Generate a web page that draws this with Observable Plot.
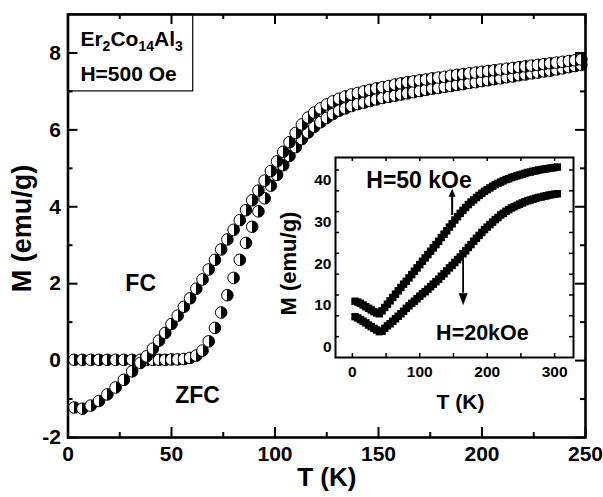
<!DOCTYPE html>
<html><head><meta charset="utf-8">
<script src="https://cdn.jsdelivr.net/npm/d3@7"></script>
<script src="https://cdn.jsdelivr.net/npm/@observablehq/plot@0.6"></script>
<style>
body{margin:0;background:#fff;}
#wrap{position:relative;width:603px;height:497px;overflow:hidden;background:#fff;}
#inset{position:absolute;left:270px;top:150px;}
</style></head><body><div id="wrap"><div id="main"></div><div id="inset"></div></div>
<script>
// ---------- main plot data ----------
const T_main = [3,7,11,15,19,23,27,31,35,
  38,41,44,47,50,53,56,59,62,65,68,71,74,77,80,83,86,89,92,95,98,101,104,107,110,113,116,119,122,125,
  128,131,134,137,140,143,146,149,152,155,158,161,164,167,170,173,176,179,182,185,188,191,194,197,200,
  203,206,209,212,215,218,221,224,227,230,233,236,239,242,245,248];
const M_FC = [-1.22,-1.25,-1.17,-1.05,-0.88,-0.70,-0.50,-0.28,-0.06,
  0.11,0.31,0.52,0.72,0.95,1.17,1.40,1.62,1.87,2.11,2.37,2.62,2.89,3.15,3.40,3.65,3.91,4.17,4.42,4.68,4.93,5.18,5.43,5.68,5.92,6.14,6.32,6.45,6.56,6.66,
  6.74,6.81,6.87,6.92,6.96,7.00,7.04,7.08,7.11,7.14,7.18,7.21,7.24,7.26,7.29,7.31,7.34,7.36,7.38,7.41,7.43,7.45,7.47,7.49,7.51,
  7.53,7.55,7.57,7.59,7.61,7.63,7.65,7.67,7.69,7.71,7.73,7.75,7.77,7.79,7.81,7.83];
const M_ZFC = [0.02,0.02,0.02,0.02,0.02,0.02,0.02,0.02,0.02,
  0.02,0.02,0.02,0.02,0.03,0.03,0.04,0.07,0.13,0.26,0.50,0.85,1.25,1.70,2.15,2.62,3.06,3.48,3.88,4.22,4.55,4.83,5.08,5.32,5.55,5.76,5.93,6.08,6.20,6.31,
  6.41,6.50,6.56,6.62,6.67,6.71,6.75,6.79,6.83,6.86,6.89,6.92,6.95,6.98,7.01,7.04,7.07,7.09,7.12,7.14,7.17,7.19,7.22,7.24,7.27,
  7.29,7.32,7.34,7.37,7.39,7.42,7.44,7.47,7.49,7.52,7.54,7.57,7.60,7.63,7.66,7.69];
const xMajor = [0,50,100,150,200,250];
const xMinor = [25,75,125,175,225];
const yMajor = [-2,0,2,4,6,8];
const yMinor = [-1,1,3,5,7];

// ---------- inset data ----------
const T_in = [4,8,12,16,20,24,28,32,36,40,44,48,52,56,60,64,68,72,76,80,84,88,92,96,100,104,108,112,116,120,124,128,132,136,140,144,148,152,156,160,164,168,172,176,180,184,188,192,196,200,204,208,212,216,220,224,228,232,236,240,244,248,252,256,260,264,268,272,276,280,284,288,292,296,300,304];
const M_50k = [11.0,10.8,10.5,10.1,9.7,9.3,8.9,8.5,8.2,8.0,8.7,9.5,10.3,11.1,11.9,12.7,13.5,14.3,15.1,15.8,16.6,17.4,18.2,19.0,19.8,20.6,21.4,22.2,23.0,23.8,24.6,25.4,26.3,27.1,27.9,28.8,29.6,30.5,31.3,32.1,32.8,33.5,34.2,34.8,35.3,35.9,36.4,36.9,37.4,37.8,38.2,38.6,39.0,39.3,39.6,39.9,40.2,40.4,40.7,40.9,41.1,41.3,41.5,41.7,41.9,42.0,42.2,42.3,42.5,42.6,42.7,42.8,42.9,43.0,43.1,43.2];
const M_20k = [7.3,7.0,6.6,6.2,5.8,5.3,4.9,4.5,4.1,3.7,3.8,4.5,5.1,5.6,6.2,6.8,7.4,8.0,8.6,9.3,9.9,10.5,11.0,11.6,12.2,12.8,13.3,13.9,14.5,15.1,15.7,16.3,17.0,17.6,18.3,19.0,19.6,20.3,21.0,21.6,22.4,23.1,23.9,24.6,25.4,26.1,26.8,27.5,28.2,28.8,29.4,30.0,30.6,31.1,31.7,32.1,32.6,33.0,33.4,33.7,34.0,34.3,34.6,34.9,35.1,35.3,35.5,35.7,35.9,36.0,36.2,36.3,36.5,36.6,36.7,36.8];
const xInMajor = [0,100,200,300];
const xInMinor = [50,150,250];
const yInLabels = [0,10,20,30,40];
const yInTicks = [2.5,7.5,12.5,17.5,22.5,27.5,32.5,37.5,42.5];

const FONT = 'Arial, "Liberation Sans", Helvetica, sans-serif';
const fc = T_main.map((t,i)=>({T:t, M:M_FC[i]}));
const zfc = T_main.map((t,i)=>({T:t, M:M_ZFC[i]}));
const h50 = T_in.map((t,i)=>({T:t, M:M_50k[i]}));
const h20 = T_in.map((t,i)=>({T:t, M:M_20k[i]}));

// ---------- main ----------
const W=603, H=497, mL=67.5, mR=18, mT=14, mB=60;
const iW = W-mL-mR, iH = H-mT-mB;
const bold = {fontWeight:"bold", fontFamily:FONT, fill:"black"};

const main = Plot.plot({
  width:W, height:H, marginLeft:mL, marginRight:mR, marginTop:mT, marginBottom:mB,
  style:{fontFamily:FONT, background:"white", color:"black"},
  x:{domain:[0,250]},
  y:{domain:[-2,9]},
  marks:[
    Plot.rect([{}], {x1:()=>0, x2:()=>60.5, y1:()=>7.0, y2:()=>9, fill:"white", stroke:"black", strokeWidth:1.2}),
    Plot.tickX(xMajor, {x:d=>d, insetTop:iH-10, strokeWidth:2}),
    Plot.tickX(xMinor, {x:d=>d, insetTop:iH-5, strokeWidth:2}),
    Plot.tickX(xMajor, {x:d=>d, insetBottom:iH-10, strokeWidth:2}),
    Plot.tickX(xMinor, {x:d=>d, insetBottom:iH-5, strokeWidth:2}),
    Plot.tickY(yMajor, {y:d=>d, insetRight:iW-10, strokeWidth:2}),
    Plot.tickY(yMinor, {y:d=>d, insetRight:iW-5, strokeWidth:2}),
    Plot.tickY(yMajor, {y:d=>d, insetLeft:iW-10, strokeWidth:2}),
    Plot.tickY(yMinor, {y:d=>d, insetLeft:iW-5, strokeWidth:2}),
    Plot.axisX({ticks:xMajor, tickSize:0, tickPadding:9, tickFormat:d=>String(d), fontSize:21, fontWeight:"bold", label:null}),
    Plot.axisY({ticks:yMajor, tickSize:0, tickPadding:7, tickFormat:d=>String(d), fontSize:21, fontWeight:"bold", label:null}),
    Plot.dot(zfc, {x:"T", y:"M", r:5.8, fill:"url(#halfFill)", stroke:"black", strokeWidth:1}),
    Plot.dot(fc, {x:"T", y:"M", r:5.8, fill:"url(#halfFill)", stroke:"black", strokeWidth:1}),
    Plot.frame({stroke:"black", strokeWidth:2.6}),
    Plot.text([{s:"FC", x:35.1, y:2.0}], {x:"x", y:"y", text:"s", fontSize:23, ...bold}),
    Plot.text([{s:"ZFC", x:62.6, y:-0.91}], {x:"x", y:"y", text:"s", fontSize:23, ...bold}),
    Plot.text([{s:"Er2Co14Al3", x:6.0, y:8.36}], {x:"x", y:"y", text:"s", textAnchor:"start", fontSize:21, ...bold}),
    Plot.text([{s:"H=500 Oe", x:6.0, y:7.45}], {x:"x", y:"y", text:"s", textAnchor:"start", fontSize:21, ...bold}),
    Plot.text(["T (K)"], {text:d=>d, frameAnchor:"bottom", textAnchor:"middle", lineAnchor:"middle", dy:40, fontSize:26, ...bold}),
    Plot.text(["M (emu/g)"], {text:d=>d, frameAnchor:"left", textAnchor:"middle", lineAnchor:"middle", dx:-45.5, dy:2.5, rotate:-90, fontSize:27, ...bold})
  ]
});
// gradient for half-filled circles
const defs = d3.select(main).insert("defs", ":first-child");
const g = defs.append("linearGradient").attr("id","halfFill").attr("x1",0).attr("x2",1).attr("y1",0).attr("y2",0);
g.append("stop").attr("offset","0.5").attr("stop-color","white");
g.append("stop").attr("offset","0.5").attr("stop-color","black");
// subscripts for the formula
d3.select(main).selectAll("text").filter(function(){return this.textContent==="Er2Co14Al3";}).each(function(){
  const t = d3.select(this); t.text(null);
  const parts = [["Er",0],["2",1],["Co",0],["14",1],["Al",0],["3",1]];
  let prev = 0;
  for (const [s,sub] of parts) {
    const dy = (sub?5:0) - prev; prev = sub?5:0;
    t.append("tspan").attr("dy", dy).attr("font-size", sub?14:21).text(s);
  }
});
document.getElementById("main").appendChild(main);

// ---------- inset ----------
const IW=310, IH=265, imL=65, imR=7, imT=7, imB=58;
const iiW = IW-imL-imR, iiH = IH-imT-imB;
const upHead = {draw(ctx){ ctx.moveTo(0,-8); ctx.lineTo(3.5,0); ctx.lineTo(-3.5,0); ctx.closePath(); }};
const downHead = {draw(ctx){ ctx.moveTo(0,12); ctx.lineTo(4.5,0); ctx.lineTo(-4.5,0); ctx.closePath(); }};
const inset = Plot.plot({
  width:IW, height:IH, marginLeft:imL, marginRight:imR, marginTop:imT, marginBottom:imB,
  style:{fontFamily:FONT, background:"transparent", color:"black", overflow:"visible"},
  x:{domain:[-25,328]},
  y:{domain:[-2.5,45.5]},
  marks:[
    Plot.frame({fill:"white", stroke:"none"}),
    Plot.tickX(xInMajor.concat(xInMinor), {x:d=>d, insetTop:iiH-4, strokeWidth:1.5}),
    Plot.tickX(xInMajor.concat(xInMinor), {x:d=>d, insetBottom:iiH-4, strokeWidth:1.5}),
    Plot.tickY(yInTicks, {y:d=>d, insetRight:iiW-4, strokeWidth:1.5}),
    Plot.tickY(yInTicks, {y:d=>d, insetLeft:iiW-4, strokeWidth:1.5}),
    Plot.axisX({ticks:xInMajor, tickSize:0, tickPadding:8, tickFormat:d=>String(d), fontSize:15.5, fontWeight:"bold", label:null}),
    Plot.axisY({ticks:yInLabels, tickSize:0, tickPadding:4, tickFormat:d=>String(d), fontSize:15.5, fontWeight:"bold", label:null}),
    Plot.dot(h50, {x:"T", y:"M", symbol:"square", r:4.2, fill:"black"}),
    Plot.dot(h20, {x:"T", y:"M", symbol:"square", r:4.2, fill:"black"}),
    Plot.ruleX([{x:148, y1:31.6, y2:36.1}], {x:"x", y1:"y1", y2:"y2", strokeWidth:2}),
    Plot.dot([{x:148, y:36.1}], {x:"x", y:"y", symbol:upHead, r:4, fill:"black"}),
    Plot.ruleX([{x:164.3, y1:21.6, y2:12.9}], {x:"x", y1:"y1", y2:"y2", strokeWidth:1.8}),
    Plot.dot([{x:164.3, y:12.9}], {x:"x", y:"y", symbol:downHead, r:4, fill:"black"}),
    Plot.frame({stroke:"black", strokeWidth:2}),
    Plot.text([{s:"H=50 kOe", x:98.9, y:40.0}], {x:"x", y:"y", text:"s", fontSize:23, ...bold}),
    Plot.text([{s:"H=20kOe", x:192.9, y:3.3}], {x:"x", y:"y", text:"s", fontSize:21.5, ...bold}),
    Plot.text(["T (K)"], {text:d=>d, frameAnchor:"bottom", textAnchor:"middle", lineAnchor:"middle", dx:6, dy:45, fontSize:21, ...bold}),
    Plot.text(["M (emu/g)"], {text:d=>d, frameAnchor:"left", textAnchor:"middle", lineAnchor:"middle", dx:-46.5, dy:6, rotate:-90, fontSize:22, ...bold})
  ]
});
document.getElementById("inset").appendChild(inset);
</script></body></html>
